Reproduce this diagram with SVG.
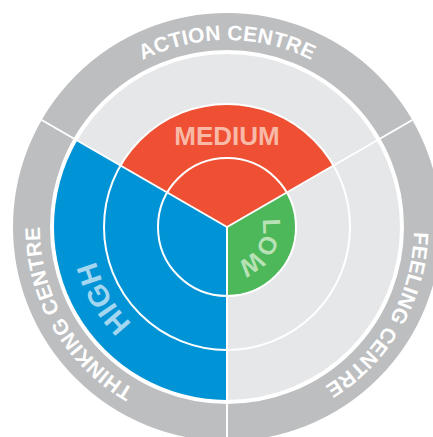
<svg xmlns="http://www.w3.org/2000/svg" width="433" height="437" viewBox="0 0 433 437">
  <style>
    .lbl { font-family: "Liberation Sans", Arial, sans-serif; font-weight: bold; }
    .ring-lbl { font-size: 21px; fill: #ffffff; letter-spacing: 0.2px; }
    .divider { stroke: #ffffff; stroke-width: 2; fill: none; }
  </style>
  <defs>
    <!-- clockwise arcs used as text baselines -->
    <path id="arcAction" d="M42.85,194.53 A187,187 0 0 1 411.15,194.53"/>
    <path id="arcThinking" d="M290.96,402.72 A187,187 0 0 1 106.8,83.75"/>
    <path id="arcFeeling" d="M347.2,83.75 A187,187 0 0 1 163.04,402.72"/>
    <path id="arcHigh" d="M227,362.5 A135.5,135.5 0 0 1 109.65,159.25"/>
    <path id="arcLow" d="M247.65,197.51 A36,36 0 0 1 211.79,259.63"/>
  </defs>

  <rect width="433" height="437" fill="#ffffff"/>

  <!-- outer grey band -->
  <g id="outer-ring">
    <circle cx="227" cy="227" r="195.5" fill="none" stroke="#bcbec0" stroke-width="37"/>
  </g>

  <!-- base disc -->
  <g id="base-disc">
    <circle cx="227" cy="227" r="173" fill="#e6e7e8"/>
  </g>

  <g id="action-medium">
    <path d="M227,227 L120.48,165.5 A123,123 0 0 1 333.52,165.5 Z" fill="#ef5033"/>
  </g>

  <g id="thinking-high">
    <path d="M227,227 L227,400 A173,173 0 0 1 77.18,140.5 Z" fill="#0093d6"/>
  </g>

  <g id="feeling-low">
    <path d="M227,227 L286.76,192.5 A69,69 0 0 1 227,296 Z" fill="#4cb85a"/>
  </g>

  <!-- level circles and sector dividers -->
  <g id="connectors">
    <circle class="divider" cx="227" cy="227" r="69"/>
    <circle class="divider" cx="227" cy="227" r="123"/>
    <line class="divider" x1="227" y1="227" x2="41.67" y2="120"/>
    <line class="divider" x1="227" y1="227" x2="412.33" y2="120"/>
    <line class="divider" x1="227" y1="227" x2="227" y2="441"/>
  </g>

  <g id="labels">
    <text class="lbl ring-lbl"><textPath href="#arcAction" startOffset="50%" text-anchor="middle">ACTION CENTRE</textPath></text>
    <text class="lbl ring-lbl"><textPath href="#arcThinking" startOffset="50%" text-anchor="middle">THINKING CENTRE</textPath></text>
    <text class="lbl ring-lbl"><textPath href="#arcFeeling" startOffset="50%" text-anchor="middle">FEELING CENTRE</textPath></text>
    <text class="lbl" x="227" y="145" font-size="26" fill="#f8b9a7" text-anchor="middle">MEDIUM</text>
    <text class="lbl" font-size="29.5" fill="#a3d6ef"><textPath href="#arcHigh" startOffset="50%" text-anchor="middle">HIGH</textPath></text>
    <text class="lbl" font-size="25" fill="#b8e2b6" letter-spacing="-1.5"><textPath href="#arcLow" startOffset="50%" text-anchor="middle">LOW</textPath></text>
  </g>
</svg>
